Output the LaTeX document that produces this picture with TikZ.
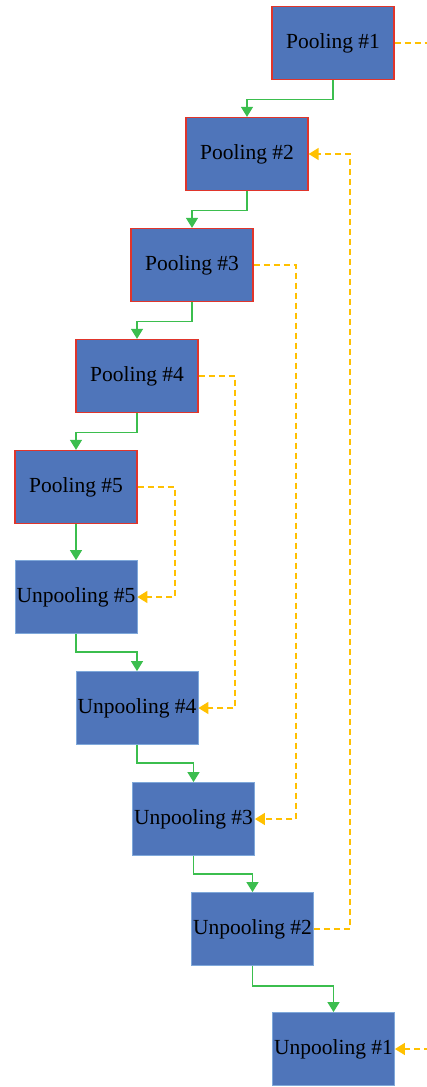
\documentclass[tikz,border=0pt]{standalone}
\usepackage{fontspec}
\setmainfont{Liberation Serif}
\usetikzlibrary{arrows.meta}
\definecolor{boxfill}{HTML}{4F75BA}
\definecolor{poolred}{HTML}{E0352B}
\definecolor{unpoolblue}{HTML}{7FA8DA}
\definecolor{skipgreen}{HTML}{3BBE4E}
\definecolor{skipyellow}{HTML}{FFC000}
\tikzset{
  layerbox/.style={rectangle, fill=boxfill, minimum width=122pt, minimum height=73pt, inner sep=0pt, font=\fontsize{21.5}{25}\selectfont, text=black},
  poolbox/.style={layerbox, draw=poolred, line width=1.3pt},
  unpoolbox/.style={layerbox, draw=unpoolblue, line width=0.8pt},
  flow/.style={draw=skipgreen, line width=1.3pt, -{Triangle[length=10pt,width=12pt]}},
  skip/.style={draw=skipyellow, line width=1.5pt, dash pattern=on 6pt off 4pt, -{Triangle[length=10pt,width=12pt]}},
  skipnoarrow/.style={draw=skipyellow, line width=1.5pt, dash pattern=on 6pt off 4pt}
}
\begin{document}
\begin{tikzpicture}[x=1pt,y=-1pt]
\useasboundingbox (0,0) rectangle (427,1087);
\node[poolbox] (p1) at (333,43) {Pooling \#1};
\node[poolbox] (p2) at (247,154) {Pooling \#2};
\node[poolbox] (p3) at (192,265) {Pooling \#3};
\node[poolbox] (p4) at (137,376) {Pooling \#4};
\node[poolbox] (p5) at (76,487) {Pooling \#5};
\node[unpoolbox] (u5) at (76,597) {Unpooling \#5};
\node[unpoolbox] (u4) at (137,708) {Unpooling \#4};
\node[unpoolbox] (u3) at (193.5,819) {Unpooling \#3};
\node[unpoolbox] (u2) at (252.5,929) {Unpooling \#2};
\node[unpoolbox] (u1) at (333.5,1049) {Unpooling \#1};
\coordinate (outR) at (430,43);
\coordinate (inR) at (430,1049);
% green flow connectors
\draw[flow] (p1.south) -- ++(0,19) -| (p2.north);
\draw[flow] (p2.south) -- ++(0,19) -| (p3.north);
\draw[flow] (p3.south) -- ++(0,19) -| (p4.north);
\draw[flow] (p4.south) -- ++(0,19) -| (p5.north);
\draw[flow] (p5.south) -- (u5.north);
\draw[flow] (u5.south) -- ++(0,18) -| (u4.north);
\draw[flow] (u4.south) -- ++(0,18) -| (u3.north);
\draw[flow] (u3.south) -- ++(0,18) -| (u2.north);
\draw[flow] (u2.south) -- ++(0,20) -| (u1.north);
% yellow skip connectors
\draw[skipnoarrow] (p1.east) -- (outR);
\draw[skip] (u2.east) -- (350,929) -- (350,154) -- (p2.east);
\draw[skip] (p3.east) -- (296,265) -- (296,819) -- (u3.east);
\draw[skip] (p4.east) -- (235,376) -- (235,708) -- (u4.east);
\draw[skip] (p5.east) -- (175,487) -- (175,597) -- (u5.east);
\draw[skip] (inR) -- (u1.east);
\end{tikzpicture}
\end{document}
